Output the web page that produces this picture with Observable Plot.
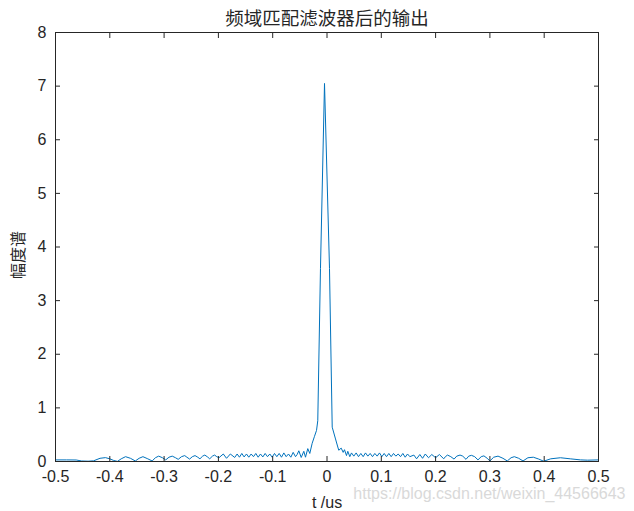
<!DOCTYPE html>
<html><head><meta charset="utf-8">
<script src="https://cdn.jsdelivr.net/npm/d3@7"></script>
<script src="https://cdn.jsdelivr.net/npm/@observablehq/plot@0.6"></script>
<style>html,body{margin:0;padding:0;background:#fff}</style>
</head><body><div id="chart"></div>
<script>
const tVals = [
-0.500,-0.480,-0.462,-0.452,-0.440,-0.430,-0.418,-0.408,-0.400,-0.393,-0.386,-0.379,-0.371,-0.362,-0.353,-0.346,-0.339,-0.330,-0.322,-0.316,
-0.310,-0.303,-0.297,-0.291,-0.285,-0.279,-0.274,-0.268,-0.262,-0.258,-0.253,-0.248,-0.243,-0.238,-0.234,-0.229,-0.225,-0.220,-0.216,-0.211,
-0.207,-0.203,-0.199,-0.191,-0.185,-0.178,-0.170,-0.1655,-0.1612,-0.1569,-0.1526,-0.1483,-0.1440,-0.1397,-0.1354,-0.1311,-0.1268,-0.1225,-0.1182,-0.1139,
-0.1096,-0.1053,-0.1010,-0.0967,-0.0924,-0.0881,-0.0838,-0.0795,-0.0752,-0.0709,-0.0666,-0.0623,-0.0580,-0.0550,-0.0519,-0.0475,-0.0427,-0.0396,-0.0354,-0.0317,
-0.0273,-0.0230,-0.0193,-0.0170,-0.0120,-0.0046,0.0046,0.0096,0.0157,0.0199,0.0217,0.0261,0.0298,0.0322,0.0359,0.0383,0.0420,0.0451,0.0494,0.0537,
0.0580,0.0623,0.0666,0.0709,0.0752,0.0795,0.0838,0.0881,0.0924,0.0967,0.1010,0.1053,0.1096,0.1139,0.1182,0.1225,0.1268,0.1311,0.1354,0.1397,
0.1440,0.1483,0.1526,0.1600,0.1650,0.1710,0.1760,0.1810,0.1870,0.1930,0.2000,0.2070,0.2150,0.2180,0.2220,0.2280,0.2340,0.2390,0.2450,0.2500,
0.2560,0.2610,0.2660,0.2720,0.2780,0.2840,0.2890,0.2950,0.3000,0.3070,0.3150,0.3240,0.3320,0.3390,0.3450,0.3530,0.3610,0.3700,0.3800,0.3900,
0.3990,0.4120,0.4300,0.4480,0.4670,0.4800,0.5000
];
const ampVals = [
0.030,0.030,0.028,0.010,0.006,0.012,0.060,0.072,0.050,0.020,0.002,0.050,0.090,0.060,0.010,0.060,0.090,0.050,0.010,0.070,
0.100,0.070,0.030,0.080,0.100,0.070,0.040,0.090,0.110,0.080,0.045,0.090,0.110,0.080,0.050,0.100,0.120,0.085,0.050,0.100,
0.120,0.090,0.070,0.140,0.060,0.140,0.075,0.140,0.080,0.150,0.085,0.140,0.080,0.140,0.090,0.150,0.080,0.140,0.085,0.150,
0.090,0.140,0.080,0.150,0.090,0.150,0.080,0.160,0.090,0.140,0.080,0.170,0.090,0.130,0.200,0.075,0.190,0.080,0.240,0.150,
0.340,0.470,0.580,0.760,3.600,7.050,3.600,0.640,0.420,0.270,0.210,0.250,0.170,0.220,0.110,0.190,0.090,0.160,0.100,0.160,
0.090,0.150,0.090,0.160,0.100,0.150,0.090,0.150,0.100,0.160,0.090,0.150,0.090,0.150,0.090,0.150,0.100,0.140,0.090,0.150,
0.080,0.140,0.090,0.120,0.050,0.130,0.060,0.140,0.070,0.130,0.070,0.130,0.050,0.090,0.120,0.090,0.045,0.100,0.120,0.100,
0.040,0.100,0.115,0.090,0.030,0.090,0.105,0.060,0.010,0.080,0.100,0.060,0.010,0.070,0.090,0.060,0.010,0.070,0.080,0.045,
0.005,0.050,0.070,0.050,0.030,0.025,0.030
];
const xTicks = [-0.5,-0.4,-0.3,-0.2,-0.1,0,0.1,0.2,0.3,0.4,0.5];
const xTickLabels = ["-0.5","-0.4","-0.3","-0.2","-0.1","0","0.1","0.2","0.3","0.4","0.5"];
const yTicks = [0,1,2,3,4,5,6,7,8];
const yTickLabels = ["0","1","2","3","4","5","6","7","8"];
const titleText = "频域匹配滤波器后的输出";
const xLabelText = "t /us";
const yLabelText = "幅度谱";
const watermarkText = "https://blog.csdn.net/weixin_44566643";

const data = tVals.map((t, i) => ({t, a: ampVals[i]}));
const axisColor = "#262626";
const cjk = "'Noto Sans CJK SC', sans-serif";
const latin = "'Liberation Sans', Arial, sans-serif";
const lab = (ticks, labels) => d => labels[ticks.findIndex(v => Math.abs(v - d) < 1e-9)];

const chart = Plot.plot({
  width: 634, height: 511,
  marginLeft: 55, marginRight: 36, marginTop: 32, marginBottom: 50,
  style: {fontFamily: latin, fontSize: "16px", color: axisColor, background: "#fff", overflow: "visible"},
  x: {domain: [-0.5, 0.5]},
  y: {domain: [0, 8]},
  marks: [
    Plot.line(data, {x: "t", y: "a", stroke: "#0072BD", strokeWidth: 1}),
    Plot.frame({stroke: axisColor, strokeWidth: 1}),
    Plot.axisX(xTicks, {anchor: "bottom", tickSize: -5, tickFormat: () => "", label: null, stroke: axisColor}),
    Plot.axisX(xTicks, {anchor: "top", tickSize: -5, tickFormat: () => "", label: null, stroke: axisColor}),
    Plot.axisY(yTicks, {anchor: "left", tickSize: -5, tickFormat: () => "", label: null, stroke: axisColor}),
    Plot.axisY(yTicks, {anchor: "right", tickSize: -5, tickFormat: () => "", label: null, stroke: axisColor}),
    Plot.axisX(xTicks, {anchor: "bottom", tickSize: 0, tickPadding: 9, tickFormat: lab(xTicks, xTickLabels), label: null, fontSize: 16, fill: axisColor}),
    Plot.axisY(yTicks, {anchor: "left", tickSize: 0, tickPadding: 9, tickFormat: lab(yTicks, yTickLabels), label: null, fontSize: 16, fill: axisColor}),
    Plot.text([titleText], {frameAnchor: "top", dy: -21, fontSize: 18.5, fontFamily: cjk, fill: axisColor}),
    Plot.text([xLabelText], {frameAnchor: "bottom", dy: 46, fontSize: 16, fontFamily: latin, fill: axisColor}),
    Plot.text([yLabelText], {frameAnchor: "left", dx: -37, dy: 32, rotate: -90, fontSize: 16, fontFamily: cjk, fill: axisColor}),
    Plot.text([watermarkText], {frameAnchor: "bottom-right", dx: 27, dy: 37, textAnchor: "end", fontSize: 16, fontFamily: latin, fill: "#d9d9d9"})
  ]
});
document.getElementById("chart").appendChild(chart);
</script>
</body></html>
